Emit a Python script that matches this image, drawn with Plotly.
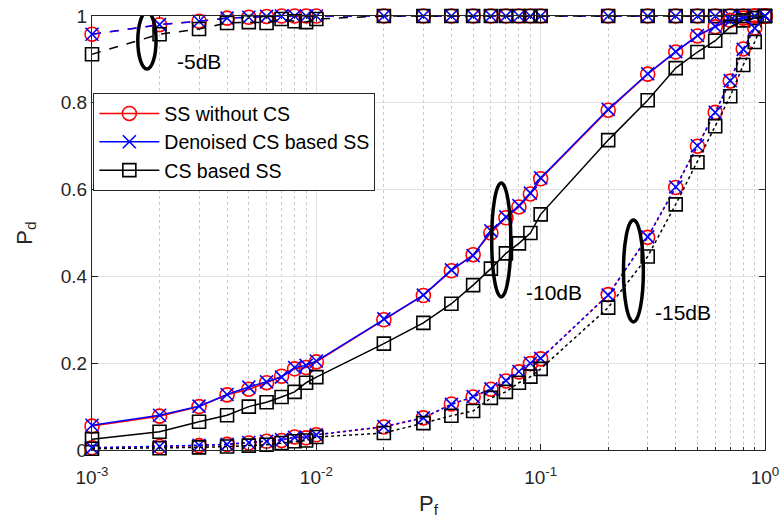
import plotly.graph_objects as go

# False-alarm probabilities (x axis)
pf = [0.001, 0.002, 0.003, 0.004, 0.005, 0.006, 0.007, 0.008, 0.009, 0.01,
      0.02, 0.03, 0.04, 0.05, 0.06, 0.07, 0.08, 0.09, 0.1,
      0.2, 0.3, 0.4, 0.5, 0.6, 0.7, 0.8, 0.9, 1.0]

# SNR = -5 dB
pd_ss_5 = [0.958, 0.980, 0.988, 0.995, 0.997, 0.999, 1.0, 1.0, 1.0, 1.0,
           1.0, 1.0, 1.0, 1.0, 1.0, 1.0, 1.0, 1.0, 1.0,
           1.0, 1.0, 1.0, 1.0, 1.0, 1.0, 1.0, 1.0, 1.0]
pd_dn_5 = [0.958, 0.980, 0.988, 0.995, 0.997, 0.999, 1.0, 1.0, 1.0, 1.0,
           1.0, 1.0, 1.0, 1.0, 1.0, 1.0, 1.0, 1.0, 1.0,
           1.0, 1.0, 1.0, 1.0, 1.0, 1.0, 1.0, 1.0, 1.0]
pd_cs_5 = [0.912, 0.958, 0.970, 0.984, 0.986, 0.984, 0.993, 0.988, 0.986, 0.993,
           1.0, 1.0, 1.0, 1.0, 1.0, 1.0, 1.0, 1.0, 1.0,
           1.0, 1.0, 1.0, 1.0, 1.0, 1.0, 1.0, 1.0, 1.0]

# SNR = -10 dB
pd_ss_10 = [0.055, 0.078, 0.100, 0.127, 0.140, 0.155, 0.170, 0.187, 0.190, 0.203,
            0.300, 0.356, 0.413, 0.450, 0.500, 0.535, 0.560, 0.590, 0.625,
            0.783, 0.866, 0.917, 0.954, 0.975, 0.990, 0.995, 1.0, 1.0]
pd_dn_10 = [0.057, 0.080, 0.101, 0.128, 0.145, 0.157, 0.168, 0.190, 0.195, 0.205,
            0.302, 0.357, 0.415, 0.448, 0.505, 0.537, 0.563, 0.592, 0.627,
            0.785, 0.867, 0.918, 0.955, 0.976, 0.990, 0.996, 1.0, 1.0]
pd_cs_10 = [0.025, 0.042, 0.065, 0.080, 0.100, 0.110, 0.122, 0.134, 0.155, 0.168,
            0.245, 0.293, 0.337, 0.380, 0.418, 0.453, 0.476, 0.500, 0.543,
            0.714, 0.806, 0.880, 0.917, 0.943, 0.975, 0.990, 0.995, 1.0]

# SNR = -15 dB
pd_ss_15 = [0.005, 0.008, 0.010, 0.013, 0.016, 0.020, 0.022, 0.030, 0.028, 0.035,
            0.053, 0.074, 0.106, 0.122, 0.140, 0.159, 0.180, 0.199, 0.210,
            0.358, 0.490, 0.605, 0.700, 0.778, 0.850, 0.924, 0.972, 1.0]
pd_dn_15 = [0.005, 0.008, 0.011, 0.013, 0.017, 0.020, 0.024, 0.029, 0.030, 0.035,
            0.054, 0.074, 0.105, 0.123, 0.141, 0.160, 0.181, 0.200, 0.211,
            0.357, 0.491, 0.606, 0.701, 0.778, 0.851, 0.923, 0.972, 1.0]
pd_cs_15 = [0.003, 0.004, 0.006, 0.008, 0.010, 0.012, 0.016, 0.020, 0.022, 0.030,
            0.039, 0.062, 0.079, 0.090, 0.120, 0.134, 0.155, 0.169, 0.187,
            0.328, 0.446, 0.566, 0.663, 0.746, 0.815, 0.887, 0.940, 1.0]

series_names = ["SS without CS", "Denoised CS based SS", "CS based SS"]
x_tickvals = [0.001, 0.01, 0.1, 1]
x_ticktext = ["10<sup>-3</sup>", "10<sup>-2</sup>", "10<sup>-1</sup>", "10<sup>0</sup>"]

FONT = "Liberation Sans, Arial, Helvetica, sans-serif"
styles = [
    dict(color="#ff0000", symbol="circle-open", size=14),
    dict(color="#0000ff", symbol="x-thin-open", size=13),
    dict(color="#000000", symbol="square-open", size=13),
]
groups = [
    ("dash", [pd_ss_5, pd_dn_5, pd_cs_5], False),
    ("solid", [pd_ss_10, pd_dn_10, pd_cs_10], True),
    ("dot", [pd_ss_15, pd_dn_15, pd_cs_15], False),
]

fig = go.Figure()
for dash, ys, show in groups:
    for name, y, st in zip(series_names, ys, styles):
        fig.add_trace(go.Scatter(
            x=pf, y=y, mode="lines+markers", name=name, showlegend=show,
            cliponaxis=False,
            line=dict(color=st["color"], width=1.5, dash=dash),
            marker=dict(symbol=st["symbol"], size=st["size"], color=st["color"],
                        line=dict(color=st["color"], width=1.6)),
        ))

# SNR group markers: ellipses and labels
ellipses = [
    (0.00160, 0.00193, 0.878, 1.009),
    (0.0605, 0.0736, 0.3525, 0.615),
    (0.234, 0.287, 0.295, 0.530),
]
for x0, x1, y0, y1 in ellipses:
    fig.add_shape(type="circle", xref="x", yref="y", x0=x0, x1=x1, y0=y0, y1=y1,
                  line=dict(color="black", width=3.5))

labels = [(-2.631, 0.895, "-5dB"), (-1.076, 0.364, "-10dB"), (-0.498, 0.316, "-15dB")]
for lx, ly, txt in labels:
    fig.add_annotation(x=lx, y=ly, text=txt, showarrow=False, xanchor="left",
                       yanchor="middle", font=dict(size=21, color="black", family=FONT))

axis_common = dict(
    showline=True, linecolor="#262626", linewidth=1, mirror="ticks",
    ticks="inside", ticklen=6, tickcolor="#262626",
    tickfont=dict(size=19, color="#262626", family=FONT),
    showgrid=True, gridcolor="#e3e3e3", gridwidth=1, zeroline=False,
    automargin=False,
)

fig.update_xaxes(
    type="log", range=[-3.0001, 0.0001], tickvals=x_tickvals, ticktext=x_ticktext,
    ticklabelstandoff=10, ticklabeloverflow="allow",
    title=dict(text="P<sub>f</sub>", font=dict(size=22, color="#262626", family=FONT), standoff=8),
    minor=dict(dtick="D1", showgrid=True, gridcolor="#cccccc", griddash="dot",
               ticks="inside", ticklen=3, tickcolor="#262626"),
    **axis_common,
)
fig.update_yaxes(
    range=[0, 1], dtick=0.2, tickformat="~g",
    title=dict(text="P<sub>d</sub>", font=dict(size=22, color="#262626", family=FONT), standoff=22),
    **axis_common,
)

fig.update_layout(
    width=780, height=530,
    margin=dict(l=92, r=15, t=16, b=80),
    paper_bgcolor="white", plot_bgcolor="white",
    font=dict(family=FONT, color="#262626"),
    legend=dict(x=0.002, y=0.822, xanchor="left", yanchor="top",
                bgcolor="white", bordercolor="#262626", borderwidth=1,
                font=dict(size=19.5, color="black", family=FONT),
                itemwidth=60, tracegroupgap=0),
)

fig.write_html("out.html")
